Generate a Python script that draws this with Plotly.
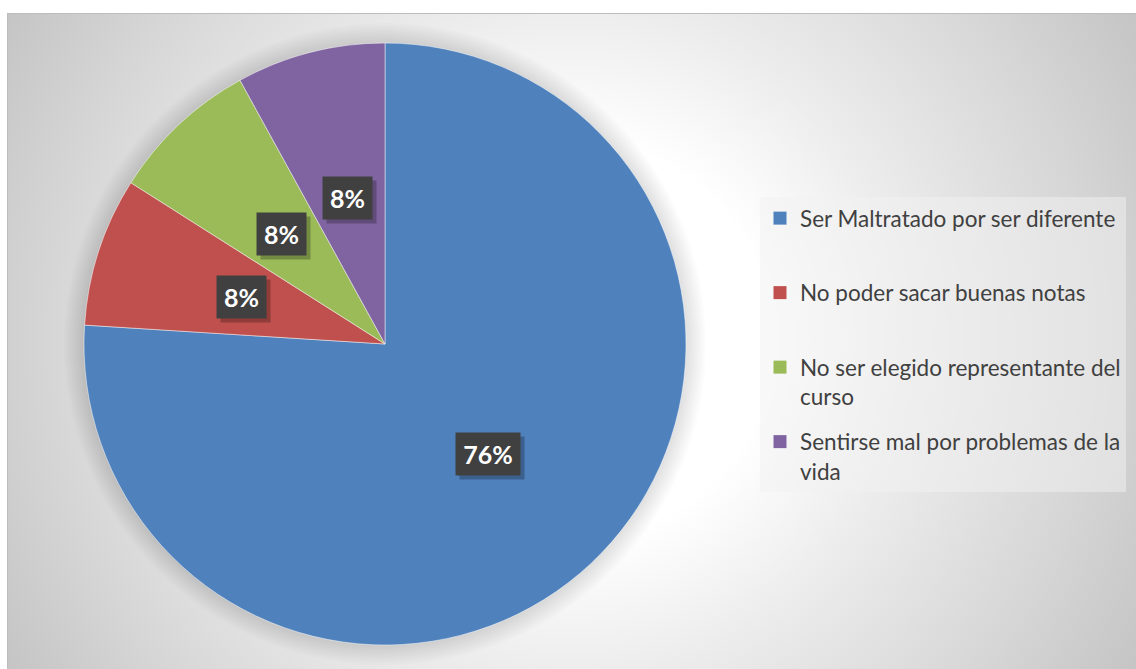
import numpy as np
import plotly.graph_objects as go

# ---------------- data ----------------
CATEGORIES = [
    "Ser Maltratado por ser diferente",
    "No poder sacar buenas notas",
    "No ser elegido representante del curso",
    "Sentirse mal por problemas de la vida",
]
LEGEND_LABELS = [
    "Ser Maltratado por ser diferente<br>&nbsp;",
    "No poder sacar buenas notas<br>&nbsp;",
    "No ser elegido representante del<br>curso",
    "Sentirse mal por problemas de la<br>vida",
]
VALUES = [19, 2, 2, 2]
COLORS = ["#4F81BD", "#C0504D", "#9BBB59", "#8064A2"]

# ---------------- geometry / style ----------------
W, H = 1136, 669
LEFT, TOP = 7, 13                # chart area origin (pixels)
PIE_CX, PIE_CY, PIE_R = 385, 344, 301
LABEL_FRAC = 0.5                 # labels at half radius on mid-angle
FONT = "Lato"
TXT = "#404040"

fig = go.Figure()

# background radial gradient centred on the chart area (pixel helper axes)
GX, GY, GR = (LEFT + W) / 2, (TOP + H) / 2, 660
fig.add_trace(go.Scatter(
    x=[GX - GR, GX + GR, GX + GR, GX - GR, GX - GR],
    y=[GY - GR, GY - GR, GY + GR, GY + GR, GY - GR],
    mode="lines", line=dict(width=0), fill="toself",
    fillgradient=dict(type="radial",
                      colorscale=[[0, "#ffffff"], [0.3, "#ffffff"],
                                  [0.5, "#ededed"], [0.79, "#d6d6d6"],
                                  [0.985, "#c5c5c5"], [1, "#c4c4c4"]]),
    hoverinfo="skip", showlegend=False))

# soft shadow around the pie
t = np.linspace(0, 2 * np.pi, 200)
for k in range(1, 11):
    rr = PIE_R + 2 * k
    fig.add_trace(go.Scatter(
        x=PIE_CX + rr * np.cos(t), y=PIE_CY + rr * np.sin(t),
        mode="lines", line=dict(width=0), fill="toself",
        fillcolor="rgba(0,0,0,0.013)", hoverinfo="skip", showlegend=False))

# pie
fig.add_trace(go.Pie(
    labels=CATEGORIES, values=VALUES, sort=False, direction="clockwise",
    rotation=0, textinfo="none", hoverinfo="label+percent",
    marker=dict(colors=COLORS, line=dict(color="rgba(255,255,255,0.6)", width=0.8)),
    domain=dict(x=[(PIE_CX - PIE_R) / W, (PIE_CX + PIE_R) / W],
                y=[(H - PIE_CY - PIE_R) / H, (H - PIE_CY + PIE_R) / H]),
    showlegend=False))

# legend entries
for name, col in zip(LEGEND_LABELS, COLORS):
    fig.add_trace(go.Scatter(
        x=[None], y=[None], mode="markers", name=name, legendgroup=name,
        marker=dict(symbol="square", size=13, color=col, line=dict(width=0)),
        showlegend=True))

# data labels (positions derived from the pie values)
total = sum(VALUES)
cum = 0.0
annotations = []
for v in VALUES:
    theta = 2 * np.pi * (cum + v / 2) / total
    cum += v
    x = PIE_CX + LABEL_FRAC * PIE_R * np.sin(theta)
    y = PIE_CY - LABEL_FRAC * PIE_R * np.cos(theta)
    lab = f"{round(100 * v / total)}%"
    wdt = 15 * len(lab) + 5
    common = dict(x=x, y=y, xref="x", yref="y", showarrow=False,
                  font=dict(family=FONT, size=25, color="#ffffff", weight="bold"),
                  width=wdt, height=28, borderpad=7)
    # shadow box
    annotations.append(dict(common, text=" ", bgcolor="rgba(0,0,0,0.25)",
                            xshift=4, yshift=-4))
    annotations.append(dict(common, text=lab, bgcolor="#404040"))

fig.update_layout(
    width=W, height=H,
    margin=dict(l=0, r=0, t=0, b=0),
    paper_bgcolor="#ffffff", plot_bgcolor="rgba(0,0,0,0)",
    xaxis=dict(domain=[LEFT / W, 1], range=[LEFT, W], visible=False, fixedrange=True),
    yaxis=dict(domain=[0, 1 - TOP / H], range=[H, TOP], visible=False, fixedrange=True),
    legend=dict(x=760 / W, y=1 - 197 / H, xanchor="left", yanchor="top",
                bgcolor="rgba(242,242,242,0.5)", borderwidth=0,
                font=dict(family=FONT, size=22.5, color=TXT),
                tracegroupgap=13, valign="top", traceorder="grouped"),
    annotations=annotations,
    shapes=[dict(type="rect", xref="x", yref="y", x0=LEFT + 0.5, x1=W + 5,
                 y0=TOP + 0.5, y1=H + 5, line=dict(color="#bdbdbd", width=1),
                 fillcolor="rgba(0,0,0,0)", layer="above")],
)

fig.write_html("out.html",
               config={"displayModeBar": False},
               post_script="document.body.style.margin='0';"
                           "document.body.style.overflow='hidden';")
